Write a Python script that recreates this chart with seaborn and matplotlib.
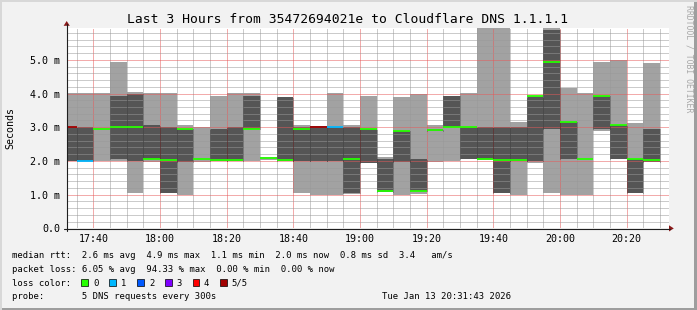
import matplotlib
matplotlib.use("Agg")
import matplotlib.pyplot as plt
from matplotlib.patches import Rectangle, Polygon
from matplotlib.lines import Line2D
import seaborn as sns
import pandas as pd

# ---------------- data ----------------
slot_start = ["17:30", "17:35", "17:40", "17:45", "17:50", "17:55",
              "18:00", "18:05", "18:10", "18:15", "18:20", "18:25",
              "18:30", "18:35", "18:40", "18:45", "18:50", "18:55",
              "19:00", "19:05", "19:10", "19:15", "19:20", "19:25",
              "19:30", "19:35", "19:40", "19:45", "19:50", "19:55",
              "20:00", "20:05", "20:10", "20:15", "20:20", "20:25"]
outer_lo = [2.00, 2.00, 2.00, 2.00, 1.05, 1.97, 1.05, 1.00, 1.97, 2.00, 2.00, 2.00,
            2.04, 2.00, 1.05, 1.00, 1.00, 1.02, 1.95, 1.08, 1.00, 1.03, 1.97, 2.00,
            2.05, 2.02, 1.05, 1.00, 1.95, 1.05, 1.00, 1.00, 2.90, 2.07, 1.05, 1.97]
outer_hi = [4.00, 4.00, 4.00, 4.94, 4.05, 4.00, 4.00, 3.06, 3.00, 3.93, 4.00, 4.00,
            2.12, 3.90, 3.06, 3.03, 4.00, 3.06, 3.93, 2.12, 3.90, 4.00, 3.06, 3.93,
            4.00, 5.95, 5.95, 3.16, 3.93, 5.95, 4.17, 4.00, 4.94, 5.00, 3.13, 4.90]
inner_lo = [2.00, 2.00, 2.96, 2.07, 2.00, 2.05, 1.05, 1.97, 2.07, 2.00, 2.00, 2.96,
            2.09, 2.00, 2.00, 2.00, 2.00, 1.05, 1.95, 1.08, 1.97, 1.10, 2.90, 3.00,
            2.07, 2.07, 1.05, 2.00, 2.00, 2.96, 2.07, 2.07, 2.96, 2.07, 1.05, 1.97]
inner_hi = [3.00, 3.00, 2.96, 3.93, 3.98, 3.08, 3.00, 2.96, 2.07, 2.96, 3.00, 3.93,
            2.09, 3.90, 3.00, 3.03, 3.00, 3.00, 2.96, 2.07, 2.90, 2.07, 2.96, 3.93,
            3.00, 3.00, 3.00, 3.00, 3.90, 5.89, 3.16, 2.07, 3.92, 3.08, 2.07, 2.96]
median = [3.02, 2.00, 2.96, 3.02, 3.02, 2.07, 2.02, 2.96, 2.07, 2.02, 2.02, 2.96,
          2.09, 2.02, 2.96, 3.02, 3.02, 2.07, 2.96, 1.10, 2.90, 1.10, 2.92, 3.02,
          3.02, 2.07, 2.02, 2.02, 3.92, 4.94, 3.16, 2.07, 3.92, 3.08, 2.07, 2.02]
loss = [5, 1, 0, 0, 0, 0, 0, 0, 0, 0, 0, 0,
        0, 0, 0, 5, 1, 0, 0, 0, 0, 0, 0, 0,
        0, 0, 0, 0, 0, 0, 0, 0, 0, 0, 0, 0]

x_tick_labels = ["17:40", "18:00", "18:20", "18:40", "19:00",
                 "19:20", "19:40", "20:00", "20:20"]
y_tick_values = [0, 1, 2, 3, 4, 5]
y_tick_labels = ["0.0", "1.0 m", "2.0 m", "3.0 m", "4.0 m", "5.0 m"]

loss_names = ["0", "1", "2", "3", "4", "5/5"]
loss_palette = ["#26ff00", "#00b8ff", "#0059ff", "#7e00ff", "#ff0000", "#a10000"]

title = "Last 3 Hours from 35472694021e to Cloudflare DNS 1.1.1.1"
legend_rtt = "median rtt:  2.6 ms avg  4.9 ms max  1.1 ms min  2.0 ms now  0.8 ms sd  3.4   am/s"
legend_loss = "packet loss: 6.05 % avg  94.33 % max  0.00 % min  0.00 % now"
legend_probe = "probe:       5 DNS requests every 300s"
stamp = "Tue Jan 13 20:31:43 2026"


def to_min(s):
    h, m = s.split(":")
    return (int(h) - 17) * 60 + int(m)


df = pd.DataFrame({"start": [to_min(s) for s in slot_start],
                   "olo": outer_lo, "ohi": outer_hi,
                   "ilo": inner_lo, "ihi": inner_hi,
                   "med": median, "loss": loss})

# ---------------- style ----------------
sns.set_theme(style="white")
plt.rcParams["font.family"] = ["DejaVu Sans Mono", "DejaVu Sans"]
plt.rcParams["text.color"] = "black"

W, H = 697, 310
fig = plt.figure(figsize=(W / 100, H / 100), dpi=100)
fig.patch.set_facecolor("#f2f2f2")


def fx(x):
    return x / W


def fy(y):
    return 1 - y / H


# plot area in pixels
L, R, T, B = 66.7, 668.7, 27.7, 228.3
ax = fig.add_axes([fx(L), fy(B), fx(R) - fx(L), (B - T) / H])
ax.set_facecolor("white")
PX_PER_MIN = 10 / 3.0
PX_PER_MS = 33.7
ax.set_xlim(32, 32 + (R - L) / PX_PER_MIN)
ax.set_ylim(0, (B - T) / PX_PER_MS)

LIGHT = "#a2a2a2"
DARK = "#555555"
STEP = 5

ax.bar(df["start"], df["ohi"] - df["olo"], bottom=df["olo"], width=STEP,
       align="edge", color=LIGHT, linewidth=0, zorder=1)
ax.bar(df["start"], df["ihi"] - df["ilo"], bottom=df["ilo"], width=STEP,
       align="edge", color=DARK, linewidth=0, zorder=1.1)

# dotted edges of the dark band
dk = df[df["ihi"] - df["ilo"] > 0.01]
for edge in (dk["start"], dk["start"] + STEP):
    ax.vlines(edge, dk["ilo"], dk["ihi"], colors=(0.1, 0.1, 0.1, 0.55),
              linewidth=0.72, linestyles=(0, (1, 1)), zorder=2.6)

ax.hlines(df["med"], df["start"], df["start"] + STEP,
          colors=[loss_palette[i] for i in df["loss"]], linewidth=1.3, zorder=3)

# grid
major_x = [to_min(s) for s in x_tick_labels]
ax.set_xticks(major_x)
ax.set_xticklabels(x_tick_labels)
ax.set_xticks([m for m in range(35, 215, 5)], minor=True)
ax.set_yticks(y_tick_values)
ax.set_yticklabels(y_tick_labels)
ax.set_yticks([v / 5 for v in range(0, 30)], minor=True)
ax.set_axisbelow(False)
ax.grid(which="minor", color=(0.6, 0.6, 0.6, 0.38), linestyle=(0, (1, 1)),
        linewidth=0.72)
ax.grid(which="major", color=(0.9, 0.35, 0.35, 0.38), linestyle=(0, (1, 1)),
        linewidth=0.72)
for sp in ax.spines.values():
    sp.set_visible(False)
ax.tick_params(which="major", length=1.5, width=0.72, color="#1f1f1f",
               labelsize=7.2, labelcolor="black")
ax.tick_params(axis="x", which="major", pad=2.6)
ax.tick_params(axis="y", which="major", pad=3.0)
ax.tick_params(which="minor", length=0)

# axes lines with arrows
fig.add_artist(Line2D([fx(63.5), fx(670)], [fy(228.5), fy(228.5)],
                      color="#1f1f1f", linewidth=0.8))
fig.add_artist(Line2D([fx(66.7), fx(66.7)], [fy(231), fy(24)],
                      color="#1f1f1f", linewidth=0.8))
arrow_c = "#8a1a1a"
fig.add_artist(Polygon([[fx(669), fy(225.3)], [fx(669), fy(231.5)], [fx(673.8), fy(228.4)]],
                       closed=True, color=arrow_c, linewidth=0))
fig.add_artist(Polygon([[fx(63.6), fy(25.8)], [fx(69.8), fy(25.8)], [fx(66.7), fy(21.0)]],
                       closed=True, color=arrow_c, linewidth=0))

# titles
fig.text(fx(347.5), fy(23.3), title, ha="center", va="baseline", fontsize=9.4)
fig.text(fx(10), fy(127.5), "Seconds", ha="center", va="center",
         rotation=90, fontsize=7.2)
fig.text(fx(688.5), fy(5), "RRDTOOL / TOBI OETIKER", ha="center", va="top",
         rotation=270, fontsize=5.9, color="#a8a8a8")

# legend
LF = 6.4
fig.text(fx(11.5), fy(258.3), legend_rtt, ha="left", va="baseline", fontsize=LF)
fig.text(fx(11.5), fy(271.8), legend_loss, ha="left", va="baseline", fontsize=LF)
fig.text(fx(11.5), fy(285.8), "loss color:", ha="left", va="baseline", fontsize=LF)
box_x = [81, 109, 137, 165, 192.7, 220.3]
lab_x = [93.3, 120.7, 149, 176.3, 204, 231.3]
for bx, lx, name, col in zip(box_x, lab_x, loss_names, loss_palette):
    fig.add_artist(Rectangle((fx(bx), fy(286.2)), 6.6 / W, 6.8 / H,
                             facecolor=col, edgecolor="#000000", linewidth=0.5))
    fig.text(fx(lx), fy(285.8), name, ha="left", va="baseline", fontsize=LF)
fig.text(fx(11.5), fy(299.4), legend_probe, ha="left", va="baseline", fontsize=LF)
fig.text(fx(511), fy(299.4), stamp, ha="right", va="baseline", fontsize=LF)

# frame shading
fig.add_artist(Rectangle((0, 0), 1, 2.5 / H, transform=fig.transFigure,
                         facecolor="#9e9e9e", linewidth=0))
fig.add_artist(Rectangle((1 - 3 / W, 0), 3 / W, 1, transform=fig.transFigure,
                         facecolor="#9e9e9e", linewidth=0))
fig.add_artist(Rectangle((0, 1 - 1.5 / H), 1, 1.5 / H, transform=fig.transFigure,
                         facecolor="#d8d8d8", linewidth=0))
fig.add_artist(Rectangle((0, 0), 1.5 / W, 1, transform=fig.transFigure,
                         facecolor="#d8d8d8", linewidth=0))

fig.savefig("out.png", dpi=100, facecolor=fig.get_facecolor())
